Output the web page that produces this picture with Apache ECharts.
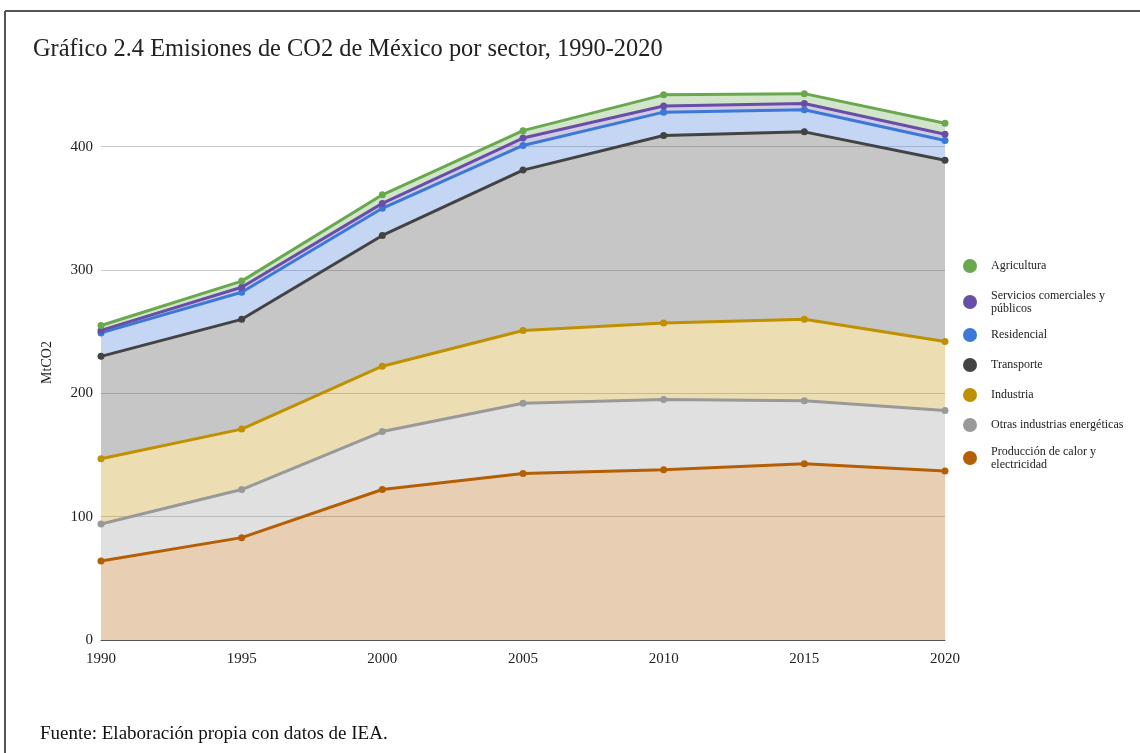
<!DOCTYPE html>
<html>
<head>
<meta charset="utf-8">
<style>
  html, body { margin: 0; padding: 0; background: #ffffff; }
  #chart { width: 1140px; height: 753px; }
</style>
<script src="https://cdn.jsdelivr.net/npm/echarts@6/dist/echarts.min.js"></script>
</head>
<body>
<div id="chart"></div>
<script>
// Years on the horizontal axis
const years = ['1990', '1995', '2000', '2005', '2010', '2015', '2020'];

// Emissions by sector (MtCO2), stacked bottom to top
const produccion  = [64, 83, 122, 135, 138, 143, 137];
const otras       = [30, 39, 47, 57, 57, 51, 49];
const industria   = [53, 49, 53, 59, 62, 66, 56];
const transporte  = [83, 89, 106, 130, 152, 152, 147];
const residencial = [19, 22, 22, 20, 19, 18, 16];
const servicios   = [2, 4, 4, 6, 5, 5, 5];
const agricultura = [4, 5, 7, 6, 9, 8, 9];

// Sector names, bottom to top of the stack
const sectorNames = [
  'Producción de calor y electricidad',
  'Otras industrias energéticas',
  'Industria',
  'Transporte',
  'Residencial',
  'Servicios comerciales y públicos',
  'Agricultura'
];
const sectorData = [produccion, otras, industria, transporte, residencial, servicios, agricultura];
const sectorColors = ['#b45f06', '#999999', '#bf9000', '#434343', '#3c78d8', '#674ea7', '#6aa84f'];

// Legend labels wrapped onto two lines where long
const legendLabels = {
  'Producción de calor y electricidad': 'Producción de calor y\nelectricidad',
  'Servicios comerciales y públicos': 'Servicios comerciales y\npúblicos'
};
// Vertical centre of each legend entry, top to bottom
const legendCentres = [266, 302, 335, 365, 395, 425, 458];

const font = '"Liberation Serif", "Times New Roman", serif';

// Filled bands first, then all outlines and markers on top of them
const areaSeries = sectorNames.map((name, i) => ({
  name: name,
  type: 'line',
  stack: 'area',
  data: sectorData[i],
  symbol: 'none',
  lineStyle: { width: 0 },
  itemStyle: { color: sectorColors[i] },
  areaStyle: { color: sectorColors[i], opacity: 0.3 },
  emphasis: { disabled: true },
  silent: true,
  z: 2
}));
const lineSeries = sectorNames.map((name, i) => ({
  name: name,
  type: 'line',
  stack: 'line',
  data: sectorData[i],
  symbol: 'circle',
  symbolSize: 7,
  showSymbol: true,
  lineStyle: { width: 3, color: sectorColors[i] },
  itemStyle: { color: sectorColors[i] },
  emphasis: { disabled: true },
  z: 3
}));

// One legend block per sector so each sits at its own height
const legendOrder = sectorNames.slice().reverse();
const legends = legendOrder.map((name, k) => {
  const twoLines = !!legendLabels[name];
  return {
    orient: 'vertical',
    left: 963,
    top: twoLines ? legendCentres[k] - 13 : legendCentres[k] - 7,
    itemWidth: 14,
    itemHeight: 14,
    icon: 'circle',
    data: [name],
    formatter: n => legendLabels[n] || n,
    textStyle: {
      fontFamily: font, fontSize: 12, color: '#222222', lineHeight: 13,
      padding: [0, 0, 0, 9]
    },
    selectedMode: false,
    padding: 0
  };
});

const chart = echarts.init(document.getElementById('chart'), null, { renderer: 'canvas' });
chart.setOption({
  animation: false,
  backgroundColor: '#ffffff',
  textStyle: { fontFamily: font },
  title: [
    {
      text: 'Gráfico 2.4 Emisiones de CO2 de México por sector, 1990-2020',
      left: 28,
      top: 33,
      textStyle: { fontFamily: font, fontSize: 24.4, fontWeight: 'normal', color: '#222222' }
    },
    {
      text: 'Fuente: Elaboración propia con datos de IEA.',
      left: 35,
      top: 720,
      textStyle: { fontFamily: font, fontSize: 19, fontWeight: 'normal', color: '#111111' }
    }
  ],
  graphic: [
    { type: 'line', shape: { x1: 5, y1: 11, x2: 1140, y2: 11 }, style: { stroke: '#555555', lineWidth: 2 } },
    { type: 'line', shape: { x1: 5, y1: 11, x2: 5, y2: 753 }, style: { stroke: '#555555', lineWidth: 2 } }
  ],
  legend: legends,
  grid: { left: 101, right: 195, top: 85, bottom: 113, containLabel: false },
  xAxis: {
    type: 'category',
    data: years,
    boundaryGap: false,
    axisLine: { lineStyle: { color: '#555555', width: 1 } },
    axisTick: { show: false },
    axisLabel: { fontFamily: font, fontSize: 15, color: '#222222', margin: 12 },
    splitLine: { show: false }
  },
  yAxis: {
    type: 'value',
    min: 0,
    max: 450,
    interval: 100,
    name: 'MtCO2',
    nameLocation: 'middle',
    nameGap: 47,
    nameRotate: 90,
    nameTextStyle: { fontFamily: font, fontSize: 14, color: '#222222' },
    axisLine: { show: false },
    axisTick: { show: false },
    axisLabel: { fontFamily: font, fontSize: 15, color: '#222222', margin: 8, showMaxLabel: false },
    splitLine: { show: true, showMaxLine: false, lineStyle: { color: '#cccccc', width: 1 } }
  },
  series: areaSeries.concat(lineSeries)
});
</script>
</body>
</html>
